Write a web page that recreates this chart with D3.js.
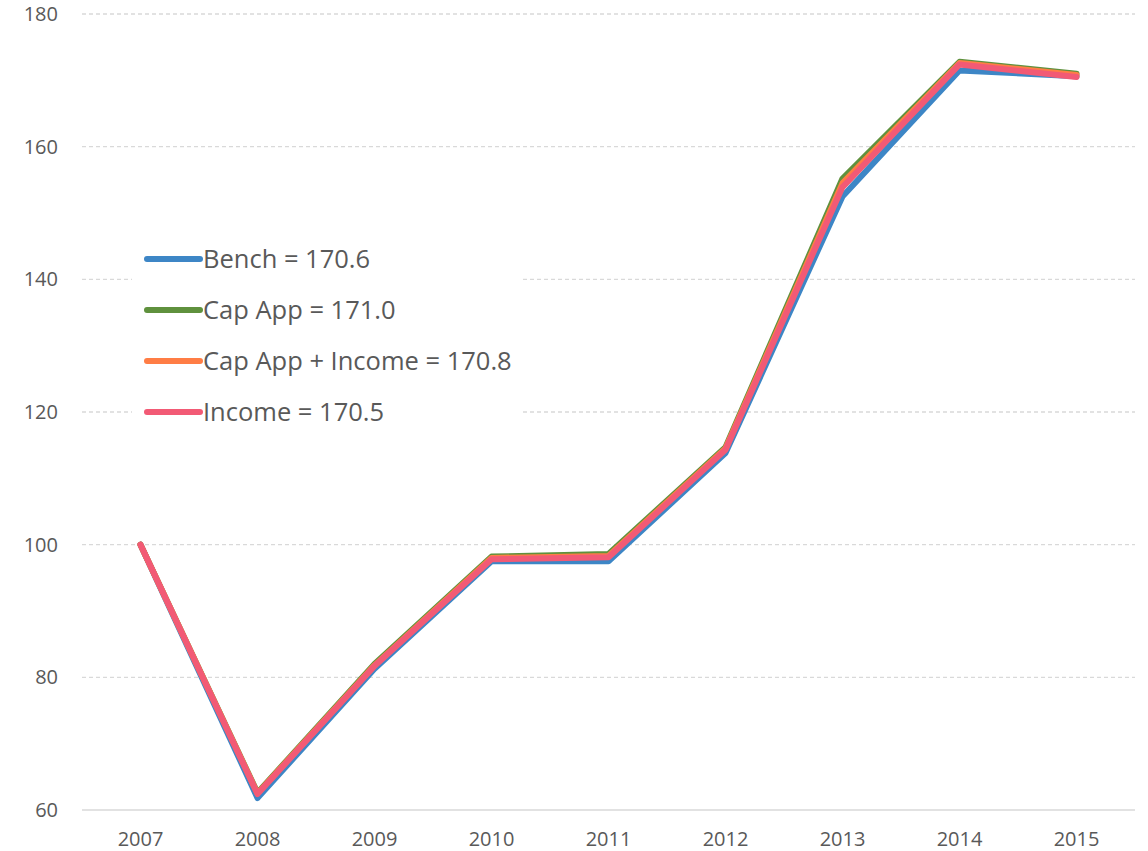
<!DOCTYPE html>
<html>
<head>
<meta charset="utf-8">
<script src="https://cdn.jsdelivr.net/npm/d3@7"></script>
<style>
  body { margin: 0; background: #fff; }
  text { font-family: "Open Sans", "Liberation Sans", sans-serif; fill: #595959; }
</style>
</head>
<body>
<div id="chart"></div>
<script>
// data
const years = ["2007", "2008", "2009", "2010", "2011", "2012", "2013", "2014", "2015"];
const bench = [100, 61.8, 81.3, 97.5, 97.5, 113.8, 152.5, 171.5, 170.6];
const capApp = [100, 62.6, 82.0, 98.2, 98.6, 114.7, 155.2, 172.8, 171.0];
const capAppIncome = [100, 62.5, 81.8, 98.0, 98.3, 114.5, 154.5, 172.6, 170.8];
const income = [100, 62.4, 81.7, 97.8, 98.1, 114.3, 153.9, 172.4, 170.5];
const yTicks = [60, 80, 100, 120, 140, 160, 180];

const series = [
  {name: "Bench = 170.6", values: bench, color: "#3d86c6"},
  {name: "Cap App = 171.0", values: capApp, color: "#5f913d"},
  {name: "Cap App + Income = 170.8", values: capAppIncome, color: "#ff7d45"},
  {name: "Income = 170.5", values: income, color: "#f25a75"}
];

const width = 1148, height = 851;
const margin = {top: 14, right: 13, bottom: 41, left: 82};

const svg = d3.select("#chart").append("svg")
  .attr("width", width)
  .attr("height", height);

let x = d3.scaleBand()
  .domain(years)
  .range([margin.left, width - margin.right]);

let y = d3.scaleLinear()
  .domain([60, 180])
  .range([height - margin.bottom, margin.top]);

// gridlines
svg.append("g")
  .selectAll("line")
  .data(yTicks.filter(d => d > 60))
  .enter().append("line")
  .attr("x1", margin.left)
  .attr("x2", width - margin.right)
  .attr("y1", d => y(d))
  .attr("y2", d => y(d))
  .attr("stroke", "#d9d9d9")
  .attr("stroke-width", 1.3)
  .attr("stroke-dasharray", "4,3");

// base axis line
svg.append("line")
  .attr("x1", margin.left)
  .attr("x2", width - margin.right)
  .attr("y1", y(60))
  .attr("y2", y(60))
  .attr("stroke", "#d9d9d9")
  .attr("stroke-width", 1.5);

// y labels
svg.append("g")
  .selectAll("text")
  .data(yTicks)
  .enter().append("text")
  .attr("x", 58)
  .attr("y", d => y(d))
  .attr("dy", "0.35em")
  .attr("text-anchor", "end")
  .style("font-size", "20px")
  .text(d => d);

// x labels
svg.append("g")
  .selectAll("text")
  .data(years)
  .enter().append("text")
  .attr("x", d => x(d) + x.bandwidth() / 2)
  .attr("y", 846)
  .attr("text-anchor", "middle")
  .style("font-size", "20px")
  .text(d => d);

// lines
let line = d3.line()
  .x((d, i) => x(years[i]) + x.bandwidth() / 2)
  .y(d => y(d));

svg.append("g")
  .selectAll("path")
  .data(series)
  .enter().append("path")
  .attr("d", d => line(d.values))
  .attr("fill", "none")
  .attr("stroke", d => d.color)
  .attr("stroke-width", 6)
  .attr("stroke-linejoin", "round")
  .attr("stroke-linecap", "round");

// legend
let legend = svg.append("g");
legend.append("rect")
  .attr("x", 132)
  .attr("y", 235)
  .attr("width", 390)
  .attr("height", 200)
  .attr("fill", "#fff");

let item = legend.selectAll(".item")
  .data(series)
  .enter().append("g")
  .attr("class", "item")
  .attr("transform", (d, i) => "translate(0," + (259 + i * 51) + ")");

item.append("line")
  .attr("x1", 147)
  .attr("x2", 200)
  .attr("stroke", d => d.color)
  .attr("stroke-width", 6)
  .attr("stroke-linecap", "round");

item.append("text")
  .attr("x", 203)
  .attr("dy", "0.35em")
  .style("font-size", "25.5px")
  .text(d => d.name);
</script>
</body>
</html>
